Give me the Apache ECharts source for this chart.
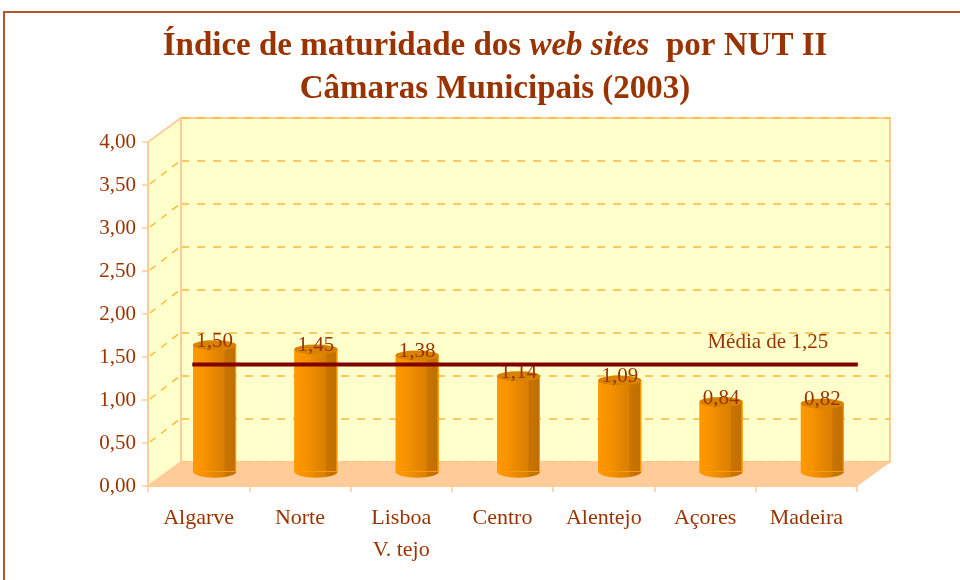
<!DOCTYPE html>
<html>
<head>
<meta charset="utf-8">
<script src="https://cdn.jsdelivr.net/npm/echarts@6/dist/echarts.min.js"></script>
<style>
  html, body { margin: 0; padding: 0; background: #fff; }
  #main { width: 960px; height: 580px; }
</style>
</head>
<body>
<div id="main"></div>
<script>
// dados
var categories = ['Algarve', 'Norte', 'Lisboa\nV. tejo', 'Centro', 'Alentejo', 'Açores', 'Madeira'];
var values = [1.50, 1.45, 1.38, 1.14, 1.09, 0.84, 0.82];
var mediaValue = 1.25;
var mediaLabel = 'Média de 1,25';
var mediaSpan = [0.28, 6.85]; // extensão da linha da média (em unidades de categoria)
var yMin = 0, yMax = 4, yStep = 0.5;

var brown = '#993300';
var peach = '#FFCC99';
var wall = '#FFFFCC';
var font = '"Liberation Serif", "DejaVu Serif", serif';

function fmt(v) { return v.toFixed(2).replace('.', ','); }

var barGradient = new echarts.graphic.LinearGradient(0, 0, 1, 0, [
  { offset: 0, color: '#FF9900' },
  { offset: 0.3, color: '#F59100' },
  { offset: 0.55, color: '#E38500' },
  { offset: 0.72, color: '#DA7F00' },
  { offset: 0.74, color: '#C97400' },
  { offset: 1, color: '#C06E00' }
]);

var chart = echarts.init(document.getElementById('main'));

var option = {
  backgroundColor: '#fff',
  animation: false,
  title: {
    left: 490,
    top: 20,
    textAlign: 'center',
    text: '{b|Índice de maturidade dos }{i|web sites}{b|  por NUT II}\n{b|Câmaras Municipais (2003)}',
    textStyle: {
      rich: {
        b: { fontFamily: font, fontWeight: 'bold', fontSize: 33, color: brown, lineHeight: 43 },
        i: { fontFamily: font, fontStyle: 'italic', fontSize: 33, color: brown, lineHeight: 43 }
      }
    }
  },
  grid: [
    // parede de fundo
    { left: 181, top: 118, width: 709, height: 344, show: true, backgroundColor: wall, borderColor: peach, borderWidth: 2, z: 0 },
    // eixos da frente
    { left: 148, top: 142, width: 709, height: 344 },
    // barras (meio da profundidade)
    { left: 164, top: 128, width: 709, height: 344 }
  ],
  xAxis: [
    { gridIndex: 0, type: 'category', data: categories, show: false },
    {
      gridIndex: 1, type: 'category', data: categories,
      axisLine: { lineStyle: { color: peach, width: 2 } },
      axisTick: { show: true, alignWithLabel: false, length: 6, lineStyle: { color: peach, width: 1.5 } },
      axisLabel: { color: brown, fontFamily: font, fontSize: 22, margin: 16, lineHeight: 32, interval: 0 }
    },
    { gridIndex: 2, type: 'category', data: categories, show: false },
    { gridIndex: 2, type: 'value', min: 0, max: categories.length, show: false }
  ],
  yAxis: [
    {
      gridIndex: 0, type: 'value', min: yMin, max: yMax, interval: yStep,
      axisLine: { show: false }, axisTick: { show: false }, axisLabel: { show: false },
      splitLine: { show: true, lineStyle: { color: '#FFB733', width: 1.5, type: [8, 8] } }
    },
    {
      gridIndex: 1, type: 'value', min: yMin, max: yMax, interval: yStep,
      axisLine: { show: true, lineStyle: { color: peach, width: 2 } },
      axisTick: { show: true, length: 6, lineStyle: { color: peach, width: 1.5 } },
      axisLabel: { color: brown, fontFamily: font, fontSize: 21, margin: 12, formatter: fmt },
      splitLine: { show: false }
    },
    { gridIndex: 2, type: 'value', min: yMin, max: yMax, interval: yStep, show: false, splitLine: { show: false } }
  ],
  series: [
    {
      // base do cilindro
      type: 'pictorialBar',
      xAxisIndex: 2, yAxisIndex: 2,
      data: values,
      symbol: 'circle',
      symbolSize: [43, 12],
      symbolPosition: 'start',
      symbolOffset: [0, 6],
      z: 2,
      itemStyle: { color: barGradient, borderColor: '#FF9900', borderWidth: 1 }
    },
    {
      type: 'bar',
      xAxisIndex: 2, yAxisIndex: 2,
      data: values,
      barWidth: 43,
      z: 3,
      itemStyle: {
        borderColor: '#FF9900',
        borderWidth: 1,
        borderRadius: [2, 2, 0, 0],
        color: barGradient
      }
    },
    {
      // topo do cilindro + rótulos
      type: 'pictorialBar',
      xAxisIndex: 2, yAxisIndex: 2,
      data: values,
      symbol: 'circle',
      symbolSize: [43, 10],
      symbolPosition: 'end',
      symbolOffset: [0, '-30%'],
      z: 4,
      itemStyle: { color: '#D98200', borderColor: '#FF9900', borderWidth: 1 },
      label: {
        show: true,
        position: 'top',
        distance: 0,
        offset: [0, 12],
        color: brown,
        fontFamily: font,
        fontSize: 21,
        formatter: function (p) { return fmt(p.value); }
      }
    },
    {
      type: 'line',
      xAxisIndex: 3, yAxisIndex: 2,
      data: [[mediaSpan[0], mediaValue], [mediaSpan[1], mediaValue]],
      symbol: 'circle',
      symbolSize: 1,
      showSymbol: true,
      z: 5,
      itemStyle: { color: '#800000' },
      lineStyle: { color: '#800000', width: 4 },
      label: {
        show: true,
        position: 'top',
        offset: [-90, -6],
        color: brown,
        fontFamily: font,
        fontSize: 21,
        formatter: function (p) { return p.dataIndex === 1 ? mediaLabel : ''; }
      }
    }
  ]
};

chart.setOption(option);

// paredes 3D: lateral, chão, moldura
var front0 = chart.convertToPixel({ xAxisIndex: 1, yAxisIndex: 1 }, [0, yMin]);
var front1 = chart.convertToPixel({ xAxisIndex: 1, yAxisIndex: 1 }, [0, yMax]);
var back0 = chart.convertToPixel({ xAxisIndex: 0, yAxisIndex: 0 }, [0, yMin]);
var back1 = chart.convertToPixel({ xAxisIndex: 0, yAxisIndex: 0 }, [0, yMax]);
var fx = 148, bx = 181, fRight = 857, bRight = 890;

var elements = [
  {
    type: 'rect', z: -10, silent: true,
    shape: { x: 4, y: 12, width: 980, height: 600 },
    style: { fill: '#fff', stroke: '#B5562C', lineWidth: 2 }
  },
  {
    type: 'polygon', z: 1, silent: true,
    shape: { points: [[fx, front1[1]], [bx, back1[1]], [bx, back0[1]], [fx, front0[1]]] },
    style: { fill: wall, stroke: peach, lineWidth: 2 }
  },
  {
    type: 'polygon', z: 1, silent: true,
    shape: { points: [[fx, front0[1]], [bx, back0[1]], [bRight, back0[1]], [fRight, front0[1]]] },
    style: { fill: peach, stroke: peach, lineWidth: 1 }
  }
];
for (var v = yMin + yStep; v < yMax; v += yStep) {
  var fy = chart.convertToPixel({ yAxisIndex: 1 }, v);
  var by = chart.convertToPixel({ yAxisIndex: 0 }, v);
  elements.push({
    type: 'line', z: 1, silent: true,
    shape: { x1: fx + 2, y1: fy - 1, x2: bx - 1, y2: by },
    style: { stroke: '#FFB733', lineWidth: 1.5, lineDash: [7, 7] }
  });
}
chart.setOption({ graphic: elements });
</script>
</body>
</html>
